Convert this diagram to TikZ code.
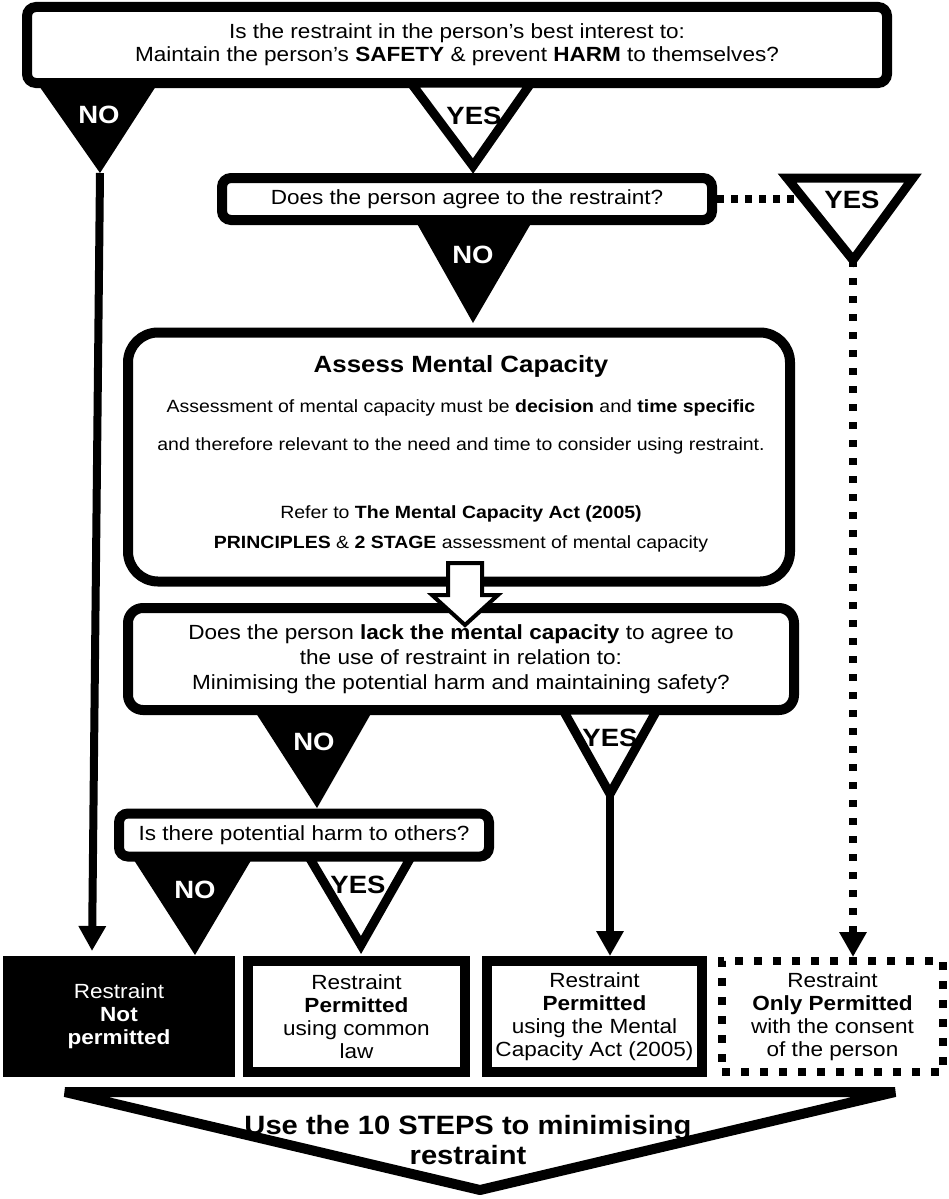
\documentclass[tikz,border=0pt]{standalone}
\usepackage{fontspec}
\setmainfont{Liberation Sans}[FakeStretch=1.1]
\usetikzlibrary{positioning,arrows.meta}

\begin{document}
\begin{tikzpicture}[x=1pt, y=-1pt]
	% Define styles for boxes
	\tikzset{
		question/.style={
			rectangle,
			draw,
			line width=10pt,
			rounded corners=9pt,
			fill=white,
			inner sep=0pt,
			align=center,
			font=\fontsize{20.5}{23}\selectfont
		},
		outcome/.style={
			rectangle,
			draw,
			line width=10pt,
			minimum width=217pt,
			minimum height=111pt,
			inner sep=0pt,
			align=center,
			font=\fontsize{20.5}{23}\selectfont
		},
		mcaText/.style={anchor=base, inner sep=0pt, font=\fontsize{17.7}{20}\selectfont},
		noTri/.style={fill=black},
		yesTri/.style={draw, fill=white, line width=9pt},
		answer/.style={inner sep=0pt, font=\bfseries\fontsize{25}{28}\selectfont},
		flow/.style={line width=8pt, -{Triangle[length=25pt, width=26pt]}},
		consentFlow/.style={line width=8pt, dash pattern=on 7pt off 11pt}
	}
	\useasboundingbox (0,0) rectangle (948,1199);
	
	% Question boxes
	\node[question, minimum width=860pt, minimum height=76pt] (bestInterest) at (457,45) {Is the restraint in the person's best interest to:\\Maintain the person's \textbf{SAFETY} \& prevent \textbf{HARM} to themselves?};
	\node[question, minimum width=490pt, minimum height=42pt] (agreeQ) at (467,199) {Does the person agree to the restraint?};
	\node[question, rounded corners=30pt, minimum width=662pt, minimum height=249pt] (assessMC) at (459,457) {};
	\node[question, rounded corners=15pt, minimum width=666pt, minimum height=102pt, font=\fontsize{20.5}{25}\selectfont] (lackQ) at (461,659) {Does the person \textbf{lack the mental capacity} to agree to\\the use of restraint in relation to:\\Minimising the potential harm and maintaining safety?};
	\node[question, minimum width=370pt, minimum height=43pt] (harmQ) at (304,835) {Is there potential harm to others?};
	
	% Text inside Assess Mental Capacity
	\node[mcaText, font=\bfseries\fontsize{23.5}{26}\selectfont] (mcaTitle) at (461,372) {Assess Mental Capacity};
	\node[mcaText] (mcaLineA) at (461,412) {Assessment of mental capacity must be \textbf{decision} and \textbf{time specific}};
	\node[mcaText] (mcaLineB) at (461,450) {and therefore relevant to the need and time to consider using restraint.};
	\node[mcaText] (mcaLineC) at (461,518) {Refer to \textbf{The Mental Capacity Act (2005)}};
	\node[mcaText] (mcaLineD) at (461,548) {\textbf{PRINCIPLES} \& \textbf{2 STAGE} assessment of mental capacity};
	
	% Hollow arrow between the two capacity boxes
	\draw[line width=4pt, fill=white] (448,563) -- (448,595) -- (432,595) -- (465,625) -- (498,595) -- (482,595) -- (482,563) -- cycle;
	
	% Outcome boxes
	\node[outcome, fill=black, draw=none, text=white, minimum width=232pt, minimum height=121pt] (notPerm) at (119,1016.5) {Restraint\\\textbf{Not}\\\textbf{permitted}};
	\node[outcome, right=3pt of notPerm] (commonLaw) {Restraint\\\textbf{Permitted}\\using common\\law};
	\node[outcome, minimum width=215pt, right=12pt of commonLaw] (mcaPerm) {Restraint\\\textbf{Permitted}\\using the Mental\\Capacity Act (2005)};
	\node[outcome, line width=8pt, dash pattern=on 8pt off 11pt, minimum width=221pt, right=11pt of mcaPerm] (consentPerm) {Restraint\\\textbf{Only Permitted}\\with the consent\\of the person};
	
	% Dotted link to the consent YES
	\coordinate (yesAgreeEdge) at (803,199);
	\draw[line width=8pt, dash pattern=on 7pt off 7pt] (agreeQ.east) -- (yesAgreeEdge);
	
	% NO / YES triangles
	\fill[noTri] (37,83) -- (158,83) -- (100,173) -- cycle;
	\draw[yesTri] (411,83) -- (531,83) -- (473,166) -- cycle;
	\draw[yesTri] (787,178) -- (913,178) -- (853,260) -- cycle;
	\fill[noTri] (415,220) -- (533,220) -- (473,323) -- cycle;
	\fill[noTri] (254,710) -- (373,710) -- (317,808) -- cycle;
	\draw[yesTri] (563,710) -- (657,710) -- (610,794) -- cycle;
	\fill[noTri] (132,857) -- (253,857) -- (195,955) -- cycle;
	\draw[yesTri] (309,857) -- (411,857) -- (361,945) -- cycle;
	\coordinate (noTopApex) at (100,173);
	\coordinate (yesAgreeApex) at (853,260);
	\coordinate (yesLackApex) at (610,794);
	
	\node[answer, text=white] (noTop) at (99,115) {NO};
	\node[answer] (yesTop) at (474,116) {YES};
	\node[answer] (yesAgree) at (852,200) {YES};
	\node[answer, text=white] (noAgree) at (473,255) {NO};
	\node[answer, text=white] (noLack) at (314,742) {NO};
	\node[answer] (yesLack) at (610,738) {YES};
	\node[answer, text=white] (noHarm) at (195,890) {NO};
	\node[answer] (yesHarm) at (358,885) {YES};
	
	% Arrows down to the outcomes
	\draw[flow] (noTopApex) -- ([xshift=-27pt]notPerm.north);
	\draw[flow] (yesLackApex) -- (yesLackApex |- mcaPerm.north);
	\draw[flow, dash pattern=on 7pt off 11pt] (yesAgreeApex) -- (yesAgreeApex |- consentPerm.north);
	
	% Final step
	\draw[line width=10pt, line join=bevel, fill=white] (65,1092) -- (895,1092) -- (480,1190) -- cycle;
	\node[align=center, inner sep=0pt, font=\bfseries\fontsize{26.5}{30}\selectfont] (stepsText) at (468,1140) {Use the 10 STEPS to minimising\\restraint};
\end{tikzpicture}
\end{document}
